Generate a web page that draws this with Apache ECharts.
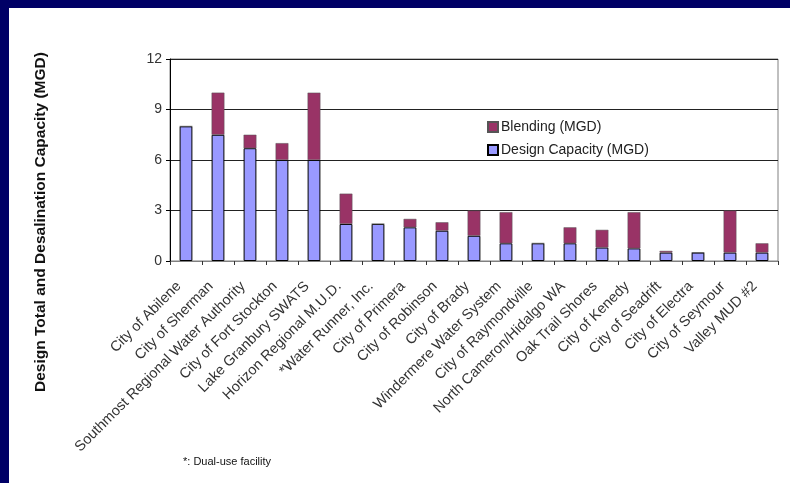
<!DOCTYPE html>
<html>
<head>
<meta charset="utf-8">
<script src="https://cdn.jsdelivr.net/npm/echarts@6/dist/echarts.min.js"></script>
<style>
  html, body { margin: 0; padding: 0; background: #fff; }
  #frame { position: absolute; left: 0; top: 0; width: 790px; height: 483px; background: #000066; }
  #chart { position: absolute; left: 9px; top: 8px; width: 781px; height: 475px; background: #fff; }
</style>
</head>
<body>
<div id="frame"></div>
<div id="chart"></div>
<script>
var facilities = ['City of Abilene', 'City of Sherman', 'Southmost Regional Water Authority',
    'City of Fort Stockton', 'Lake Granbury SWATS', 'Horizon Regional M.U.D.',
    '*Water Runner, Inc.', 'City of Primera', 'City of Robinson', 'City of Brady',
    'Windermere Water System', 'City of Raymondville', 'North Cameron/Hidalgo WA',
    'Oak Trail Shores', 'City of Kenedy', 'City of Seadrift', 'City of Electra',
    'City of Seymour', 'Valley MUD #2'];
var designCapacity = [8, 7.5, 6.7, 6, 6, 2.2, 2.2, 2, 1.8, 1.5, 1.05, 1.05, 1.05, 0.8, 0.75, 0.5, 0.5, 0.5, 0.5];
var blending = [0, 2.5, 0.8, 1, 4, 1.8, 0, 0.5, 0.5, 1.5, 1.85, 0, 0.95, 1.05, 2.15, 0.1, 0, 2.5, 0.55];
var yTicks = [0, 3, 6, 9, 12];

var chart = echarts.init(document.getElementById('chart'), null, { renderer: 'canvas' });

var option = {
    animation: false,
    textStyle: { fontFamily: 'Liberation Sans, Arial, sans-serif' },
    grid: {
        left: 161, right: 12, top: 51, bottom: 222,
        show: true, borderColor: '#808080', borderWidth: 1
    },
    legend: {
        orient: 'vertical',
        left: 473, top: 107,
        icon: 'rect',
        itemWidth: 10, itemHeight: 10, itemGap: 9,
        data: ['Blending (MGD)', 'Design Capacity (MGD)'],
        textStyle: { fontSize: 14, color: '#222', padding: [0, 0, 0, -2] }
    },
    graphic: [
        {
            type: 'text',
            x: 32, y: 214,
            rotation: Math.PI / 2,
            style: {
                text: 'Design Total and Desalination Capacity (MGD)',
                font: 'bold 15.5px Liberation Sans, Arial, sans-serif',
                fill: '#111',
                align: 'center',
                verticalAlign: 'middle'
            }
        },
        {
            type: 'text',
            left: 174, top: 448,
            style: {
                text: '*: Dual-use facility',
                font: '11px Liberation Sans Narrow, Arial Narrow, sans-serif',
                fill: '#111'
            }
        }
    ],
    xAxis: {
        type: 'category',
        data: facilities,
        axisLine: { lineStyle: { color: '#808080', width: 1 } },
        axisTick: { show: true, alignWithLabel: false, length: 4, lineStyle: { color: '#333' } },
        axisLabel: {
            interval: 0, rotate: 45, fontSize: 14.5, color: '#333', margin: 16,
            padding: [0, 10, 0, 0]
        }
    },
    yAxis: {
        type: 'value',
        min: yTicks[0], max: yTicks[yTicks.length - 1], interval: 3,
        axisLine: { show: true, lineStyle: { color: '#000' } },
        axisTick: { show: true, length: 4, lineStyle: { color: '#000' } },
        axisLabel: { fontSize: 14, color: '#333', margin: 8 },
        splitLine: { lineStyle: { color: '#222', width: 1 } }
    },
    series: [
        {
            name: 'Design Capacity (MGD)',
            type: 'bar',
            stack: 'total',
            barWidth: '40%',
            data: designCapacity,
            itemStyle: { color: '#9999FF', borderColor: '#000', borderWidth: 1 }
        },
        {
            name: 'Blending (MGD)',
            type: 'bar',
            stack: 'total',
            barWidth: '40%',
            data: blending,
            itemStyle: { color: '#993366', borderColor: '#555', borderWidth: 0.5 }
        }
    ]
};

chart.setOption(option);
</script>
</body>
</html>
